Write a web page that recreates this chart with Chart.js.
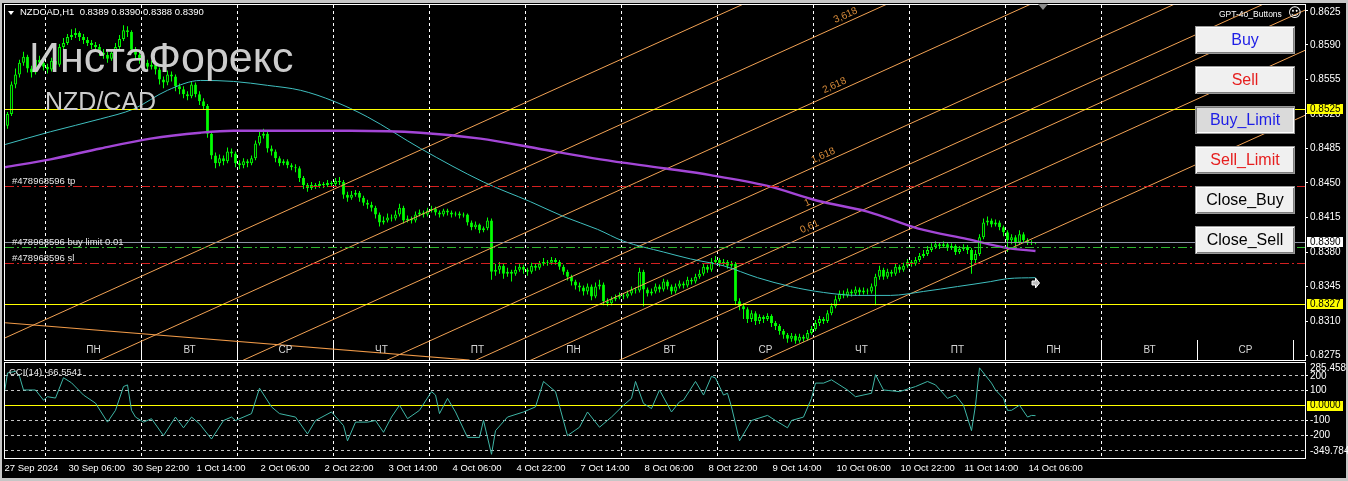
<!DOCTYPE html>
<html lang="ru">
<head>
<meta charset="utf-8">
<title>NZDCAD H1</title>
<script src="https://cdn.jsdelivr.net/npm/chart.js@4.4.1/dist/chart.umd.min.js"></script>
<style>
  html, body { margin:0; padding:0; width:1348px; height:481px; overflow:hidden; background:#c6c6c6; }
  #win { position:absolute; left:2px; top:3px; width:1344px; height:475px; background:#000; }
  canvas { position:absolute; left:0; }
  #cMain { top:0; }
  #cCci { top:360px; }
  .t { position:absolute; white-space:nowrap; font-family:"Liberation Sans", Arial, sans-serif; }
  #title { left:20px; top:7px; font-size:9.5px; line-height:10px; color:#fff; }
  #tri { position:absolute; left:8px; top:11px; width:0; height:0; border-left:3.5px solid transparent; border-right:3.5px solid transparent; border-top:4px solid #fff; }
  #shift { position:absolute; left:1038px; top:4px; width:0; height:0; border-left:5px solid transparent; border-right:5px solid transparent; border-top:6px solid #8c8c8c; }
  #wm1 { left:29px; top:36px; font-size:43px; line-height:43px; color:#cccccc; }
  #wm2 { left:45px; top:89px; font-size:25px; line-height:25px; color:#cccccc; }
  #gpt { left:1219px; top:9px; font-size:8.5px; line-height:10px; color:#fff; }
  #smile { left:1288px; top:6px; font-size:13px; line-height:14px; color:#fff; font-family:"DejaVu Sans", sans-serif; }
  .btn { position:absolute; left:1195px; width:100px; height:28px; box-sizing:border-box; background:#f0f0f0;
         border:1px solid #9a9a9a; box-shadow: inset 1px 1px 0 #ffffff, inset -1px -1px 0 #7c7c7c;
         font:16px "Liberation Sans", Arial, sans-serif; display:flex; align-items:center; justify-content:center; }
  .btn.pressed { background:#dadada; box-shadow: inset 1px 1px 0 #7c7c7c, inset -1px -1px 0 #ffffff; }
</style>
</head>
<body>
<div id="win"></div>
<canvas id="cMain" width="1348" height="362"></canvas>
<canvas id="cCci" width="1348" height="118"></canvas>
<div id="tri"></div>
<div class="t" id="title">NZDCAD,H1&nbsp;&nbsp;0.8389 0.8390 0.8388 0.8390</div>
<div class="t" id="wm1">ИнстаФорекс</div>
<div class="t" id="wm2">NZD/CAD</div>
<div id="shift"></div>
<div class="t" id="gpt">GPT-4o_Buttons</div>
<div class="t" id="smile">☺</div>
<div class="btn" style="top:26px;color:#1e1ee6;">Buy</div>
<div class="btn" style="top:66px;color:#e61e1e;">Sell</div>
<div class="btn pressed" style="top:106px;color:#1e1ee6;">Buy_Limit</div>
<div class="btn" style="top:146px;color:#e61e1e;">Sell_Limit</div>
<div class="btn" style="top:186px;color:#000;">Close_Buy</div>
<div class="btn" style="top:226px;color:#000;">Close_Sell</div>

<script>
// ---------------- DATA (NZDCAD H1, bar 0 = 27 Sep 2024 14:00) ----------------
const opens = [
.8508,.8520,.8550,.8560,.8572,.8578,.8566,.8562,.8575,.8572,
.8568,.8565,.8574,.8570,.8588,.8592,.8598,.8600,.8602,.8598,
.8595,.8592,.8590,.8588,.8582,.8580,.8576,.8582,.8588,.8596,
.8605,.8603,.8585,.8580,.8575,.8572,.8568,.8570,.8565,.8555,
.8552,.8560,.8558,.8548,.8545,.8540,.8538,.8550,.8540,.8533,
.8528,.8500,.8478,.8470,.8475,.8472,.8482,.8480,.8470,.8468,
.8472,.8470,.8475,.8490,.8498,.8500,.8485,.8482,.8475,.8470,
.8472,.8468,.8466,.8465,.8455,.8448,.8445,.8448,.8447,.8449,
.8448,.8450,.8449,.8452,.8451,.8438,.8435,.8438,.8440,.8435,
.8430,.8428,.8425,.8418,.8410,.8412,.8415,.8414,.8418,.8425,
.8412,.8414,.8412,.8418,.8420,.8418,.8422,.8424,.8420,.8418,
.8422,.8420,.8418,.8419,.8417,.8418,.8410,.8405,.8408,.8402,
.8404,.8412,.8360,.8362,.8366,.8358,.8360,.8358,.8362,.8365,
.8362,.8360,.8366,.8364,.8368,.8370,.8369,.8372,.8370,.8365,
.8360,.8355,.8350,.8346,.8344,.8340,.8345,.8335,.8345,.8347,
.8330,.8328,.8332,.8334,.8336,.8335,.8338,.8342,.8341,.8360,
.8342,.8338,.8340,.8345,.8342,.8350,.8345,.8340,.8345,.8348,
.8346,.8352,.8350,.8355,.8358,.8365,.8362,.8370,.8372,.8368,
.8370,.8366,.8368,.8330,.8325,.8322,.8312,.8318,.8310,.8314,
.8312,.8315,.8308,.8305,.8300,.8296,.8292,.8295,.8290,.8294,
.8292,.8298,.8302,.8308,.8312,.8310,.8318,.8325,.8332,.8338,
.8336,.8340,.8338,.8342,.8339,.8341,.8340,.8345,.8355,.8362,
.8355,.8360,.8358,.8365,.8362,.8366,.8370,.8368,.8372,.8376,
.8378,.8382,.8385,.8388,.8386,.8388,.8384,.8386,.8380,.8383,
.8385,.8382,.8372,.8378,.8395,.8410,.8412,.8408,.8410,.8405,
.8400,.8392,.8395,.8390,.8398,.8392,.8390,.8389];
const highs = [
.8522,.8553,.8566,.8575,.8583,.8580,.8569,.8578,.8579,.8575,
.8571,.8577,.8576,.8591,.8597,.8601,.8606,.8607,.8604,.8601,
.8598,.8595,.8593,.8591,.8586,.8583,.8585,.8592,.8600,.8610,
.8609,.8605,.8588,.8583,.8578,.8575,.8574,.8572,.8567,.8558,
.8564,.8563,.8560,.8551,.8548,.8543,.8553,.8552,.8543,.8536,
.8530,.8502,.8481,.8479,.8478,.8486,.8485,.8482,.8473,.8475,
.8474,.8478,.8493,.8502,.8505,.8502,.8488,.8484,.8477,.8474,
.8474,.8470,.8469,.8467,.8457,.8450,.8451,.8450,.8452,.8451,
.8453,.8452,.8455,.8456,.8453,.8441,.8442,.8443,.8442,.8437,
.8433,.8431,.8427,.8420,.8416,.8419,.8418,.8422,.8429,.8427,
.8417,.8416,.8421,.8423,.8422,.8425,.8427,.8426,.8422,.8424,
.8424,.8422,.8421,.8421,.8420,.8419,.8412,.8411,.8409,.8406,
.8415,.8414,.8368,.8370,.8368,.8364,.8362,.8366,.8368,.8367,
.8364,.8369,.8368,.8371,.8374,.8372,.8375,.8374,.8372,.8367,
.8362,.8357,.8352,.8349,.8346,.8348,.8347,.8349,.8352,.8349,
.8333,.8335,.8337,.8339,.8338,.8341,.8345,.8344,.8364,.8362,
.8344,.8343,.8348,.8347,.8353,.8352,.8347,.8348,.8351,.8350,
.8355,.8354,.8358,.8362,.8368,.8367,.8374,.8376,.8374,.8373,
.8372,.8371,.8370,.8333,.8328,.8324,.8321,.8320,.8317,.8316,
.8318,.8317,.8310,.8307,.8302,.8298,.8298,.8297,.8297,.8296,
.8301,.8305,.8311,.8315,.8314,.8321,.8328,.8336,.8341,.8341,
.8343,.8342,.8345,.8344,.8344,.8343,.8348,.8358,.8366,.8364,
.8363,.8362,.8368,.8367,.8369,.8373,.8372,.8375,.8379,.8382,
.8386,.8389,.8391,.8390,.8391,.8390,.8389,.8388,.8386,.8388,
.8387,.8384,.8382,.8398,.8414,.8416,.8414,.8413,.8412,.8407,
.8402,.8398,.8397,.8402,.8400,.8394,.8392,.8390];
const lows = [
.8505,.8518,.8546,.8557,.8569,.8562,.8557,.8560,.8568,.8564,
.8561,.8563,.8566,.8568,.8585,.8590,.8595,.8597,.8594,.8591,
.8589,.8586,.8584,.8579,.8576,.8572,.8574,.8580,.8585,.8594,
.8598,.8582,.8576,.8571,.8568,.8564,.8565,.8560,.8550,.8546,
.8549,.8553,.8543,.8540,.8536,.8534,.8536,.8537,.8529,.8524,
.8496,.8474,.8465,.8467,.8468,.8470,.8476,.8466,.8464,.8465,
.8466,.8468,.8473,.8488,.8495,.8481,.8478,.8471,.8467,.8468,
.8465,.8463,.8461,.8451,.8444,.8441,.8443,.8444,.8445,.8445,
.8446,.8446,.8447,.8448,.8434,.8431,.8433,.8436,.8431,.8427,
.8424,.8421,.8414,.8406,.8408,.8410,.8411,.8412,.8416,.8409,
.8410,.8409,.8410,.8416,.8415,.8416,.8420,.8417,.8415,.8416,
.8417,.8415,.8416,.8414,.8415,.8407,.8402,.8403,.8399,.8400,
.8402,.8352,.8356,.8358,.8353,.8355,.8350,.8356,.8360,.8358,
.8356,.8358,.8361,.8362,.8366,.8366,.8367,.8367,.8362,.8357,
.8351,.8346,.8342,.8340,.8336,.8337,.8331,.8333,.8342,.8326,
.8325,.8326,.8330,.8332,.8332,.8333,.8336,.8338,.8339,.8325,
.8335,.8336,.8338,.8339,.8340,.8342,.8337,.8338,.8343,.8343,
.8344,.8347,.8348,.8353,.8356,.8359,.8360,.8368,.8365,.8366,
.8363,.8364,.8326,.8321,.8312,.8308,.8309,.8306,.8307,.8308,
.8310,.8304,.8301,.8296,.8292,.8288,.8289,.8287,.8288,.8289,
.8290,.8296,.8300,.8305,.8307,.8308,.8316,.8323,.8330,.8333,
.8334,.8335,.8336,.8336,.8337,.8337,.8338,.8326,.8352,.8352,
.8353,.8355,.8356,.8359,.8360,.8364,.8365,.8366,.8370,.8374,
.8376,.8380,.8383,.8383,.8384,.8381,.8382,.8377,.8378,.8381,
.8378,.8358,.8368,.8376,.8393,.8407,.8405,.8406,.8402,.8396,
.8380,.8388,.8386,.8388,.8389,.8387,.8387,.8388];
const closes = [
.8520,.8550,.8560,.8572,.8578,.8566,.8562,.8575,.8572,.8568,
.8565,.8574,.8570,.8588,.8592,.8598,.8600,.8602,.8598,.8595,
.8592,.8590,.8588,.8582,.8580,.8576,.8582,.8588,.8596,.8605,
.8603,.8585,.8580,.8575,.8572,.8568,.8570,.8565,.8555,.8552,
.8560,.8558,.8548,.8545,.8540,.8538,.8550,.8540,.8533,.8528,
.8500,.8478,.8470,.8475,.8472,.8482,.8480,.8470,.8468,.8472,
.8470,.8475,.8490,.8498,.8500,.8485,.8482,.8475,.8470,.8472,
.8468,.8466,.8465,.8455,.8448,.8445,.8448,.8447,.8449,.8448,
.8450,.8449,.8452,.8451,.8438,.8435,.8438,.8440,.8435,.8430,
.8428,.8425,.8418,.8410,.8412,.8415,.8414,.8418,.8425,.8412,
.8414,.8412,.8418,.8420,.8418,.8422,.8424,.8420,.8418,.8422,
.8420,.8418,.8419,.8417,.8418,.8410,.8405,.8408,.8402,.8404,
.8412,.8360,.8362,.8366,.8358,.8360,.8358,.8362,.8365,.8362,
.8360,.8366,.8364,.8368,.8370,.8369,.8372,.8370,.8365,.8360,
.8355,.8350,.8346,.8344,.8340,.8345,.8335,.8345,.8347,.8330,
.8328,.8332,.8334,.8336,.8335,.8338,.8342,.8341,.8360,.8342,
.8338,.8340,.8345,.8342,.8350,.8345,.8340,.8345,.8348,.8346,
.8352,.8350,.8355,.8358,.8365,.8362,.8370,.8372,.8368,.8370,
.8366,.8368,.8330,.8325,.8322,.8312,.8318,.8310,.8314,.8312,
.8315,.8308,.8305,.8300,.8296,.8292,.8295,.8290,.8294,.8292,
.8298,.8302,.8308,.8312,.8310,.8318,.8325,.8332,.8338,.8336,
.8340,.8338,.8342,.8339,.8341,.8340,.8345,.8355,.8362,.8355,
.8360,.8358,.8365,.8362,.8366,.8370,.8368,.8372,.8376,.8378,
.8382,.8385,.8388,.8386,.8388,.8384,.8386,.8380,.8383,.8385,
.8382,.8372,.8378,.8395,.8410,.8412,.8408,.8410,.8405,.8400,
.8392,.8395,.8390,.8398,.8392,.8390,.8389,.8390];

// moving averages (x = bar index)
const cyanMAIndex = [-0.6,10.75,23.25,31.5,40,48.25,56.5,65,73.25,81.5,90,103.25,119,130.75,139,147.5,154,164,170.75,179,187.5,195.75,204,212.5,220.75,229,237.5,245.75,250,257];
const cyanMAValue = [0.8489,0.8502,0.8515,0.8525,0.8544,0.8554,0.8553,0.8549,0.8544,0.8533,0.8517,0.8485,0.8451,0.8431,0.8416,0.8403,0.8391,0.8380,0.8373,0.8366,0.8354,0.8345,0.8339,0.8336,0.8336,0.8340,0.8345,0.8350,0.8353,0.8354];
const purpleMAIndex = [-0.6,10.75,23.25,35.75,48.25,56.5,73.25,85.75,103.25,118.25,132.5,148.25,164,175.75,190,202.5,215,227.5,240,250,257];
const purpleMAValue = [0.8466,0.8474,0.8485,0.8495,0.8501,0.8503,0.8503,0.8503,0.8501,0.8495,0.8485,0.8474,0.8465,0.8458,0.8447,0.8432,0.8421,0.8404,0.8393,0.8384,0.8381];

// CCI(14)
const cciIndex = [-1,0,2,3,4,7,9,10,12,14,16,19,22,25,27,29,30,31,32,34,36,39,42,44,46,48,51,54,56,57,61,63,66,68,72,75,77,81,84,85,87,90,92,94,96,98,100,103,106,107,108,110,112,115,118,119,121,122,125,129,132,134,137,140,143,145,148,151,154,156,157,159,161,163,166,168,169,172,174,176,177,179,180,181,182,183,186,190,192,195,196,199,201,202,204,206,210,212,216,217,219,223,227,230,232,235,237,239,241,242,243,246,247,249,250,251,253,255,256,257];
const cciValue = [49,219,230,196,105,105,37,60,51,187,153,71,17,-110,-31,128,139,-31,-76,-110,-87,-200,-76,-148,-76,-121,-223,-99,-76,-99,-53,117,-8,-53,-76,-189,-99,-42,-133,-235,-110,-110,-99,-178,-76,3,-87,-31,94,71,-53,49,-42,-212,-212,-99,-325,-167,-76,-42,-8,162,94,-200,-144,-42,-144,-76,3,49,162,15,-19,105,-42,26,37,162,71,196,185,71,83,-8,-121,-235,-99,-65,-99,-148,-99,-76,49,151,151,173,105,60,83,207,105,94,128,162,139,49,71,3,-167,3,253,151,105,49,-31,-31,3,-76,-65,-66.55];
const cciMax = 285.458, cciMin = -349.784;
const cciLevels = [200, 100, -100, -200, -300];
const cciAxisTicks = [200, 100, -100, -200];
const cciTitle = 'CCI(14) -66.5541';

// axes / time
const priceMin = 0.82705, priceMax = 0.86305;
const priceTicks = [0.8625,0.8590,0.8555,0.8520,0.8485,0.8450,0.8415,0.8380,0.8345,0.8310,0.8275];
const timeLabelIndex = [0,16,32,48,64,80,96,112,128,144,160,176,192,208,224,240,256];
const timeLabelText = ['27 Sep 2024','30 Sep 06:00','30 Sep 22:00','1 Oct 14:00','2 Oct 06:00','2 Oct 22:00','3 Oct 14:00','4 Oct 06:00','4 Oct 22:00','7 Oct 14:00','8 Oct 06:00','8 Oct 22:00','9 Oct 14:00','10 Oct 06:00','10 Oct 22:00','11 Oct 14:00','14 Oct 06:00'];
const dayStartIndex = [10,34,58,82,106,130,154,178,202,226,250,274,298,322];
const dayLabels = ['ПН','ВТ','СР','ЧТ','ПТ','ПН','ВТ','СР','ЧТ','ПТ','ПН','ВТ','СР','ЧТ'];
const gridLastDay = 274;

// objects
const hLineValues = [0.8525, 0.8327, 0.8446, 0.8368, 0.8385, 0.8390];
const orderLabelText = ['#478968596 tp', '#478968596 buy limit 0.01', '#478968596 sl'];
const orderLabelPrice = [0.8446, 0.8385, 0.8368];
const axisMarkValues = [0.8525, 0.8327, 0.8390];
const fibBaseIndex = 197.25, fibBasePrice = 0.83514, fibSlope = 0.0001834, fibStep = 0.006592, fibLabelShift = 2.8;
const fibLevels = [-1, 0, 0.618, 1, 1.618, 2.618, 3.618, 4.618];
const fibLabels = ['', '', '0,61', '1', '1,618', '2,618', '3,618', '4,618'];
const trendStart = {x: -0.6, y: 0.83083}, trendEnd = {x: 115.5, y: 0.82705};
const arrowIndex = 257, arrowPrice = 0.83486;

// ---------------- STYLE ----------------
const X_MIN = -0.625, X_MAX = 324.375;
const FONT = '"Liberation Sans", Arial, sans-serif';
const hLineStyle = [
  {color:'#ffff00', dash:[]}, {color:'#ffff00', dash:[]},
  {color:'#d42020', dash:[9,3,2,3]}, {color:'#d42020', dash:[9,3,2,3]},
  {color:'#2fb52f', dash:[9,3,2,3]}, {color:'#8e93a3', dash:[]}];
const axisMarkStyle = [{bg:'#ffff00'}, {bg:'#ffff00'}, {bg:'#ffffff'}];

function fibPrice(L, i) { return fibBasePrice + fibSlope * (i - fibBaseIndex) + L * fibStep; }
function cr(v) { return Math.round(v - 0.5) + 0.5; }
function seg(ctx, x1, y1, x2, y2) { ctx.beginPath(); ctx.moveTo(x1, y1); ctx.lineTo(x2, y2); ctx.stroke(); }

const bodyData = closes.map((c, i) => ({x: i, y: [Math.min(opens[i], c), Math.max(opens[i], c)]}));
const wickData = closes.map((c, i) => ({x: i, y: [lows[i], highs[i]]}));
const bodyFill = closes.map((c, i) => c > opens[i] ? '#000000' : '#00ff00');

const datasets = [];
datasets.push({type:'bar', data: wickData, backgroundColor:'#00ff00', borderWidth:0, grouped:false, maxBarThickness:1, order:50});
datasets.push({type:'bar', data: bodyData, backgroundColor: bodyFill, borderColor:'#00ff00', borderWidth:1, borderSkipped:false, grouped:false, maxBarThickness:3, order:40});
fibLevels.forEach(L => datasets.push({type:'line', data:[{x:X_MIN, y:fibPrice(L, X_MIN)}, {x:X_MAX, y:fibPrice(L, X_MAX)}],
  borderColor:'#f2a254', borderWidth:1, pointRadius:0, order:30, clip:0}));
datasets.push({type:'line', data:[trendStart, trendEnd], borderColor:'#f09a48', borderWidth:1.2, pointRadius:0, order:30, clip:0});
datasets.push({type:'line', data: cyanMAIndex.map((x, k) => ({x, y: cyanMAValue[k]})), borderColor:'#3fbfbf', borderWidth:1, pointRadius:0, cubicInterpolationMode:'monotone', order:11, clip:0});
datasets.push({type:'line', data: purpleMAIndex.map((x, k) => ({x, y: purpleMAValue[k]})), borderColor:'#a346d6', borderWidth:2.4, pointRadius:0, cubicInterpolationMode:'monotone', order:10, clip:0});

const mainPlugin = {
  id: 'mainPlugin',
  beforeDatasetsDraw(chart) {
    const {ctx, chartArea: a, scales: {x}} = chart;
    ctx.save();
    ctx.strokeStyle = '#ffffff'; ctx.lineWidth = 1;
    dayStartIndex.forEach(d => {
      const sx = cr(x.getPixelForValue(d - 0.5));
      if (sx > a.right) return;
      if (d <= gridLastDay) { ctx.setLineDash([3, 3]); seg(ctx, sx, a.top, sx, a.bottom - 20); }
      ctx.setLineDash([]); seg(ctx, sx, a.bottom - 20, sx, a.bottom);
    });
    ctx.restore();
  },
  afterDatasetsDraw(chart) {
    const {ctx, chartArea: a, scales: {x, y}} = chart;
    ctx.save();
    ctx.beginPath(); ctx.rect(a.left, a.top, a.right - a.left, a.bottom - a.top); ctx.clip();
    ctx.lineWidth = 1;
    hLineValues.forEach((v, k) => {
      const sy = cr(y.getPixelForValue(v));
      ctx.strokeStyle = hLineStyle[k].color; ctx.setLineDash(hLineStyle[k].dash);
      seg(ctx, a.left, sy, a.right, sy);
    });
    ctx.setLineDash([]);
    ctx.font = '9.5px ' + FONT; ctx.fillStyle = '#e8e8e8'; ctx.textAlign = 'left'; ctx.textBaseline = 'alphabetic';
    orderLabelText.forEach((t, k) => ctx.fillText(t, a.left + 7, y.getPixelForValue(orderLabelPrice[k]) - 2.5));
    // day labels
    ctx.font = '10px ' + FONT; ctx.fillStyle = '#d6d6d6'; ctx.textAlign = 'center'; ctx.textBaseline = 'middle';
    dayStartIndex.forEach((d, k) => { const cx = x.getPixelForValue(d + 11.5); if (cx < a.right - 8) ctx.fillText(dayLabels[k], cx, a.bottom - 10); });
    // fibo labels
    const ang = Math.atan2(y.getPixelForValue(fibPrice(0, 10)) - y.getPixelForValue(fibPrice(0, 0)), x.getPixelForValue(10) - x.getPixelForValue(0));
    ctx.font = '10px ' + FONT; ctx.fillStyle = '#d98c3a'; ctx.textAlign = 'left'; ctx.textBaseline = 'alphabetic';
    fibLevels.forEach((L, k) => {
      if (!fibLabels[k]) return;
      const i = fibBaseIndex + L * fibLabelShift;
      ctx.save(); ctx.translate(x.getPixelForValue(i), y.getPixelForValue(fibPrice(L, i))); ctx.rotate(ang);
      ctx.fillText(fibLabels[k], 0, -4); ctx.restore();
    });
    // arrow object
    const ax = x.getPixelForValue(arrowIndex) - 3.5, ay = y.getPixelForValue(arrowPrice);
    ctx.beginPath(); ctx.moveTo(ax, ay - 2); ctx.lineTo(ax + 3.5, ay - 2); ctx.lineTo(ax + 3.5, ay - 5); ctx.lineTo(ax + 7.5, ay);
    ctx.lineTo(ax + 3.5, ay + 5); ctx.lineTo(ax + 3.5, ay + 2); ctx.lineTo(ax, ay + 2); ctx.closePath();
    ctx.fillStyle = '#bdbdbd'; ctx.fill(); ctx.strokeStyle = '#ffffff'; ctx.stroke();
    ctx.restore();
    // price axis
    ctx.save();
    ctx.font = '10px ' + FONT; ctx.fillStyle = '#ffffff'; ctx.textAlign = 'left'; ctx.textBaseline = 'middle';
    ctx.strokeStyle = '#ffffff'; ctx.lineWidth = 1;
    priceTicks.forEach(v => {
      const sy = y.getPixelForValue(v);
      seg(ctx, a.right, cr(sy), a.right + 3, cr(sy));
      ctx.fillText(v.toFixed(4), a.right + 5, Math.max(sy, a.top + 7));
    });
    axisMarkValues.forEach((v, k) => {
      const sy = y.getPixelForValue(v);
      ctx.fillStyle = axisMarkStyle[k].bg; ctx.fillRect(a.right + 2, Math.round(sy) - 5, 36, 10);
      ctx.fillStyle = '#000000'; ctx.fillText(v.toFixed(4), a.right + 5, sy);
    });
    ctx.strokeStyle = '#ffffff';
    ctx.strokeRect(a.left - 0.5, a.top - 0.5, a.right - a.left + 1, a.bottom - a.top + 1);
    ctx.restore();
  }
};

new Chart(document.getElementById('cMain'), {
  type: 'bar',
  data: { datasets },
  options: {
    responsive: false, animation: false, devicePixelRatio: 1, events: [],
    layout: { padding: { left: 5, right: 43, top: 5, bottom: 2 } },
    plugins: { legend: { display: false }, tooltip: { enabled: false } },
    scales: {
      x: { type: 'linear', min: X_MIN, max: X_MAX, offset: false, display: false },
      y: { type: 'linear', min: priceMin, max: priceMax, stacked: false, display: false }
    }
  },
  plugins: [mainPlugin]
});

const cciPlugin = {
  id: 'cciPlugin',
  beforeDatasetsDraw(chart) {
    const {ctx, chartArea: a, scales: {x, y}} = chart;
    ctx.save(); ctx.lineWidth = 1;
    ctx.strokeStyle = '#ffffff'; ctx.setLineDash([3, 3]);
    dayStartIndex.forEach(d => { if (d > gridLastDay) return; const sx = cr(x.getPixelForValue(d - 0.5)); seg(ctx, sx, a.top, sx, a.bottom); });
    ctx.strokeStyle = '#c4c4c4';
    cciLevels.forEach(v => { const sy = cr(y.getPixelForValue(v)); seg(ctx, a.left, sy, a.right, sy); });
    ctx.setLineDash([]); ctx.strokeStyle = '#ffff00';
    const zy = cr(y.getPixelForValue(0)); seg(ctx, a.left, zy, a.right, zy);
    ctx.restore();
  },
  afterDatasetsDraw(chart) {
    const {ctx, chartArea: a, scales: {x, y}} = chart;
    ctx.save();
    ctx.font = '9.5px ' + FONT; ctx.fillStyle = '#e8e8e8'; ctx.textAlign = 'left'; ctx.textBaseline = 'alphabetic';
    ctx.fillText(cciTitle, a.left + 4, a.top + 12);
    ctx.font = '10px ' + FONT; ctx.fillStyle = '#ffffff'; ctx.textBaseline = 'middle';
    ctx.strokeStyle = '#ffffff'; ctx.lineWidth = 1;
    cciAxisTicks.forEach(v => { const sy = y.getPixelForValue(v); seg(ctx, a.right, cr(sy), a.right + 3, cr(sy)); ctx.fillText(String(v), a.right + 5, sy); });
    ctx.fillText(cciMax.toFixed(3), a.right + 5, a.top + 5);
    ctx.fillText(cciMin.toFixed(3), a.right + 5, a.bottom - 7);
    const zy = y.getPixelForValue(0);
    ctx.fillStyle = '#ffff00'; ctx.fillRect(a.right + 2, Math.round(zy) - 5, 36, 10);
    ctx.fillStyle = '#000000'; ctx.fillText((0).toFixed(4), a.right + 5, zy);
    // time axis
    ctx.fillStyle = '#ffffff'; ctx.font = '9.5px ' + FONT; ctx.textBaseline = 'middle';
    timeLabelIndex.forEach((i, k) => ctx.fillText(timeLabelText[k], x.getPixelForValue(i) - 3, a.bottom + 10));
    ctx.strokeStyle = '#ffffff';
    ctx.strokeRect(a.left - 0.5, a.top - 0.5, a.right - a.left + 1, a.bottom - a.top + 1);
    ctx.restore();
  }
};

new Chart(document.getElementById('cCci'), {
  type: 'line',
  data: { datasets: [{ data: cciIndex.map((x, k) => ({x, y: cciValue[k]})), borderColor:'#3fb6a6', borderWidth:1, pointRadius:0, tension:0, clip:0 }] },
  options: {
    responsive: false, animation: false, devicePixelRatio: 1, events: [],
    layout: { padding: { left: 5, right: 43, top: 3, bottom: 20 } },
    plugins: { legend: { display: false }, tooltip: { enabled: false } },
    scales: {
      x: { type: 'linear', min: X_MIN, max: X_MAX, display: false },
      y: { type: 'linear', min: cciMin, max: cciMax, display: false }
    }
  },
  plugins: [cciPlugin]
});
</script>
</body>
</html>
